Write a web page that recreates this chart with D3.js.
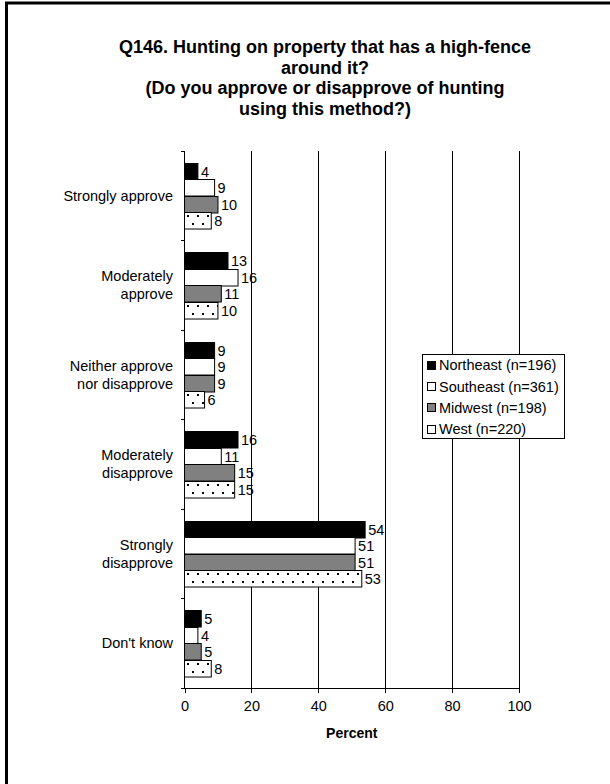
<!DOCTYPE html>
<html>
<head>
<meta charset="utf-8">
<script src="https://cdn.jsdelivr.net/npm/d3@7"></script>
<style>
  html, body { margin: 0; padding: 0; background: #fff; }
  svg { display: block; }
  text { font-family: "Liberation Sans", Arial, sans-serif; fill: #000; }
</style>
</head>
<body>
<svg id="chart" width="610" height="784"></svg>
<script>
// ---- data ----
const categories = [
  ["Strongly approve"],
  ["Moderately", "approve"],
  ["Neither approve", "nor disapprove"],
  ["Moderately", "disapprove"],
  ["Strongly", "disapprove"],
  ["Don't know"]
];
const seriesNames = ["Northeast (n=196)", "Southeast (n=361)", "Midwest (n=198)", "West (n=220)"];
const northeast = [4, 13, 9, 16, 54, 5];
const southeast = [9, 16, 9, 11, 51, 4];
const midwest   = [10, 11, 9, 15, 51, 5];
const west      = [8, 10, 6, 15, 53, 8];
const xTicks = [0, 20, 40, 60, 80, 100];
const titleLines = [
  "Q146. Hunting on property that has a high-fence",
  "around it?",
  "(Do you approve or disapprove of hunting",
  "using this method?)"
];
const seriesValues = [northeast, southeast, midwest, west];

// ---- layout ----
const svg = d3.select("#chart");
const pLeft = 184.5, pRight = 519, pTop = 151, pBottom = 688;

// frame
svg.append("path")
  .attr("d", "M6.5,790 L6.5,3 L620,3")
  .attr("fill", "none").attr("stroke", "#000").attr("stroke-width", 3);

const defs = svg.append("defs");

// scales
const x = d3.scaleLinear().domain([0, 100]).range([pLeft, pRight]);
const y = d3.scaleBand().domain(d3.range(categories.length)).range([pTop, pBottom]).padding(0);
const ys = d3.scaleBand().domain(d3.range(seriesNames.length)).range([0, y.bandwidth()])
  .paddingInner(0).paddingOuter(0.71);

// dotted patterns, one per category so dots align with each bar
categories.forEach((c, ci) => {
  const top0 = Math.round(y(ci) + ys(3));
  const p = defs.append("pattern").attr("id", "dots" + ci)
    .attr("patternUnits", "userSpaceOnUse")
    .attr("x", pLeft - 0.5).attr("y", top0)
    .attr("width", 10).attr("height", 16);
  p.append("rect").attr("width", 10).attr("height", 16).attr("fill", "#fff");
  p.append("rect").attr("x", 3).attr("y", 3).attr("width", 2).attr("height", 2).attr("fill", "#000");
  p.append("rect").attr("x", 8).attr("y", 11).attr("width", 2).attr("height", 2).attr("fill", "#000");
});
const patL = defs.append("pattern").attr("id", "dotsL")
  .attr("patternUnits", "userSpaceOnUse").attr("x", 428).attr("y", 421).attr("width", 20).attr("height", 20);
patL.append("rect").attr("width", 20).attr("height", 20).attr("fill", "#fff");
patL.append("rect").attr("x", 2).attr("y", 2).attr("width", 2).attr("height", 2).attr("fill", "#000");

const fills = ["#000000", "#ffffff", "#808080", null];
const legendFills = ["#000000", "#ffffff", "#808080", "url(#dotsL)"];

// title
const title = svg.append("text").attr("text-anchor", "middle")
  .style("font-size", "18px").style("font-weight", "bold");
titleLines.forEach((t, i) => {
  title.append("tspan").attr("x", 325).attr("y", 53 + i * 20.7).text(t);
});

// gridlines
svg.append("g").selectAll("line").data(xTicks.filter(d => d > 0)).join("line")
  .attr("x1", d => x(d)).attr("x2", d => x(d))
  .attr("y1", pTop).attr("y2", pBottom)
  .attr("stroke", "#000").attr("stroke-width", 1).attr("shape-rendering", "crispEdges");

// bars
const groups = svg.append("g").selectAll("g").data(categories).join("g");
groups.each(function(cat, ci) {
  const g = d3.select(this);
  seriesValues.forEach((vals, si) => {
    const by = Math.round(y(ci) + ys(si)) + 0.5;
    g.append("rect")
      .attr("x", x(0)).attr("y", by)
      .attr("width", x(vals[ci]) - x(0)).attr("height", ys.bandwidth())
      .attr("fill", si === 3 ? `url(#dots${ci})` : fills[si])
      .attr("stroke", "#000").attr("stroke-width", 1);
    g.append("text")
      .attr("x", x(vals[ci]) + 3).attr("y", by + ys.bandwidth() / 2)
      .attr("dy", "0.35em").style("font-size", "14.5px")
      .text(vals[ci]);
  });
});

// y axis
const yAxisG = svg.append("g");
yAxisG.append("line").attr("x1", pLeft).attr("x2", pLeft).attr("y1", pTop).attr("y2", pBottom)
  .attr("stroke", "#000").attr("shape-rendering", "crispEdges");
const boundaries = d3.range(categories.length + 1).map(i => pTop + i * y.step());
yAxisG.selectAll("line.tick").data(boundaries).join("line").attr("class", "tick")
  .attr("x1", pLeft - 4).attr("x2", pLeft).attr("y1", d => d).attr("y2", d => d)
  .attr("stroke", "#000").attr("shape-rendering", "crispEdges");

// category labels
svg.append("g").selectAll("text").data(categories).join("text")
  .attr("text-anchor", "end").style("font-size", "14.5px")
  .each(function(lines, i) {
    const t = d3.select(this);
    const cy = y(i) + y.bandwidth() / 2;
    const lh = 18;
    lines.forEach((ln, k) => {
      t.append("tspan").attr("x", 173)
        .attr("y", cy + (k - (lines.length - 1) / 2) * lh)
        .attr("dy", "0.35em").text(ln);
    });
  });

// x axis
const xAxis = d3.axisBottom(x).tickValues(xTicks).tickSize(5).tickSizeOuter(0).tickPadding(8);
const xg = svg.append("g").attr("transform", `translate(0,${pBottom})`).call(xAxis);
xg.select(".domain").attr("stroke", "#000").attr("shape-rendering", "crispEdges");
xg.selectAll(".tick line").attr("stroke", "#000").attr("shape-rendering", "crispEdges");
xg.selectAll(".tick text").style("font-size", "14.5px")
  .style("font-family", "'Liberation Sans', Arial, sans-serif").attr("fill", "#000");

svg.append("text").attr("x", (pLeft + pRight) / 2).attr("y", 738)
  .attr("text-anchor", "middle").style("font-size", "14px").style("font-weight", "bold")
  .text("Percent");

// legend
const lg = svg.append("g");
lg.append("rect").attr("x", 422.5).attr("y", 354.5).attr("width", 142).attr("height", 84)
  .attr("fill", "#fff").attr("stroke", "#000").attr("stroke-width", 1);
seriesNames.forEach((name, i) => {
  const cy = 365.3 + i * 21.3;
  lg.append("rect").attr("x", 427.5).attr("y", Math.round(cy - 4.5) + 0.5).attr("width", 8).attr("height", 8)
    .attr("fill", legendFills[i]).attr("stroke", "#000").attr("stroke-width", 1);
  lg.append("text").attr("x", 439).attr("y", cy).attr("dy", "0.35em")
    .style("font-size", "14.5px").text(name);
});
</script>
</body>
</html>
